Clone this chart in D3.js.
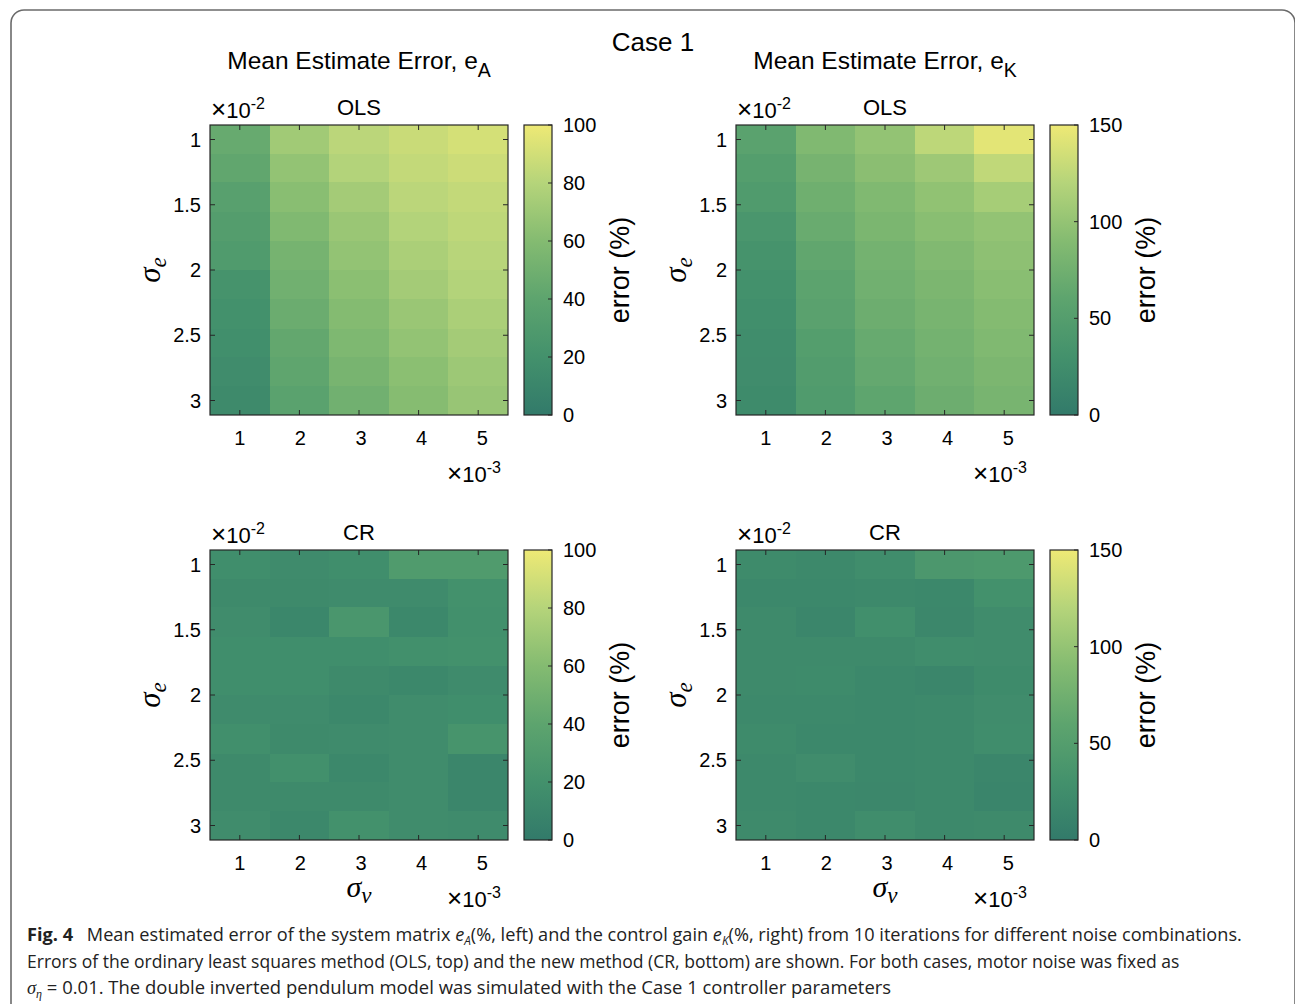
<!DOCTYPE html>
<html>
<head>
<meta charset="utf-8">
<script src="https://cdn.jsdelivr.net/npm/d3@7"></script>
<style>
  body { margin: 0; background: #fff; }
  svg { display: block; }
  text { font-family: "Liberation Sans", Arial, sans-serif; fill: #000; }
</style>
</head>
<body>
<div id="chart"></div>
<script>
// sigma_v (x, x1e-3) and sigma_e (y, x1e-2)
var sigmaV = [1, 2, 3, 4, 5];
var sigmaE = [1, 1.22, 1.44, 1.67, 1.89, 2.11, 2.33, 2.56, 2.78, 3];
var yTicks = [1, 1.5, 2, 2.5, 3];

// rows = sigma_e (top to bottom), cols = sigma_v
var olsA = [
    [45, 72, 82, 87, 91],
    [42, 66, 79, 85, 88],
    [36, 62, 73, 82, 85],
    [33, 58, 69, 79, 83],
    [30, 53, 66, 76, 81],
    [22, 50, 63, 73, 79],
    [20, 47, 60, 69, 76],
    [18, 43, 57, 66, 73],
    [16, 41, 54, 63, 70],
    [14, 38, 50, 61, 68]
];
var olsK = [
    [57, 87, 99, 124, 144],
    [50, 80, 94, 106, 126],
    [45, 74, 87, 98, 111],
    [38, 69, 83, 93, 99],
    [33, 63, 78, 88, 96],
    [30, 59, 75, 84, 93],
    [27, 56, 72, 81, 90],
    [25, 50, 68, 78, 87],
    [24, 47, 65, 75, 84],
    [22, 45, 61, 72, 81]
];
var crA = [
    [17, 15, 17, 30, 30],
    [14, 14, 15, 15, 20],
    [16, 11, 25, 12, 19],
    [17, 17, 17, 19, 20],
    [17, 17, 14, 12, 15],
    [15, 15, 12, 16, 17],
    [18, 14, 15, 16, 23],
    [14, 19, 12, 16, 10],
    [14, 14, 14, 16, 10],
    [16, 12, 20, 16, 15]
];
var crK = [
    [22, 20, 25, 40, 42],
    [18, 18, 20, 18, 30],
    [21, 15, 27, 17, 24],
    [21, 21, 21, 25, 24],
    [21, 22, 18, 15, 22],
    [20, 20, 18, 20, 24],
    [22, 18, 18, 20, 25],
    [20, 24, 18, 20, 15],
    [20, 18, 17, 20, 14],
    [21, 18, 25, 20, 21]
];
var ticksA = [0, 20, 40, 60, 80, 100];
var ticksK = [0, 50, 100, 150];

var cmapStops = ['#327a6a', '#43916c', '#5da46e', '#84bb71', '#b5d47a', '#eee975'];
var cmap = d3.piecewise(d3.interpolateRgb, cmapStops);

var W = 1295, H = 1004;
var svg = d3.select('#chart').append('svg').attr('width', W).attr('height', H);

// rounded frame
svg.append('rect')
    .attr('x', 11).attr('y', 10)
    .attr('width', 1284).attr('height', 1010)
    .attr('rx', 13)
    .attr('fill', 'none').attr('stroke', '#6b6b6b').attr('stroke-width', 1.6);

svg.append('text').attr('x', 653).attr('y', 51).attr('text-anchor', 'middle')
    .style('font-size', '26px').text('Case 1');

var pw = 298, ph = 290;

function panel(x0, y0, data, vmax, cticks, method, title, sub, bottom) {
    var g = svg.append('g');
    var x = d3.scaleBand().domain(sigmaV).range([x0, x0 + pw]);
    var rowH = ph / sigmaE.length;
    var y = d3.scaleLinear().domain([1, 3]).range([y0 + rowH / 2, y0 + ph - rowH / 2]);
    var col = d3.scaleSequential(cmap).domain([0, vmax]);

    var cells = [];
    data.forEach(function (row, i) {
        row.forEach(function (v, j) { cells.push({ r: sigmaE[i], c: sigmaV[j], v: v }); });
    });
    g.selectAll('rect.cell').data(cells).enter().append('rect')
        .attr('class', 'cell')
        .attr('shape-rendering', 'crispEdges')
        .attr('x', function (d) { return Math.round(x(d.c)); })
        .attr('y', function (d) { return Math.round(y(d.r) - rowH / 2); })
        .attr('width', function (d) { return Math.min(x0 + pw, Math.round(x(d.c) + x.bandwidth()) + 1) - Math.round(x(d.c)); })
        .attr('height', function (d) { return Math.min(y0 + ph, Math.round(y(d.r) + rowH / 2) + 1) - Math.round(y(d.r) - rowH / 2); })
        .attr('fill', function (d) { return col(d.v); });

    // inward ticks
    var tk = 5;
    var tg = g.append('g').attr('stroke', '#262626').attr('stroke-width', 1);
    sigmaV.forEach(function (v, i) {
        var cx = x(v) + x.bandwidth() / 2;
        tg.append('line').attr('x1', cx).attr('x2', cx).attr('y1', y0 + ph).attr('y2', y0 + ph - tk);
        tg.append('line').attr('x1', cx).attr('x2', cx).attr('y1', y0).attr('y2', y0 + tk);
        g.append('text').attr('x', cx + i).attr('y', y0 + ph + 30).attr('text-anchor', 'middle')
            .style('font-size', '20px').text(v);
    });
    yTicks.forEach(function (v) {
        tg.append('line').attr('x1', x0).attr('x2', x0 + tk).attr('y1', y(v)).attr('y2', y(v));
        tg.append('line').attr('x1', x0 + pw).attr('x2', x0 + pw - tk).attr('y1', y(v)).attr('y2', y(v));
        g.append('text').attr('x', x0 - 9).attr('y', y(v) + 7).attr('text-anchor', 'end')
            .style('font-size', '20px').text(v);
    });
    g.append('rect').attr('x', x0).attr('y', y0).attr('width', pw).attr('height', ph)
        .attr('fill', 'none').attr('stroke', '#262626').attr('stroke-width', 1.2);

    // exponent labels
    var ex = g.append('text').attr('x', x0 + 1).attr('y', y0 - 7).style('font-size', '22px');
    ex.append('tspan').style('font-size', '26px').style('font-weight', '300').text('\u00d7');
    ex.append('tspan').text('10');
    ex.append('tspan').attr('dy', -9).style('font-size', '16px').text('-2');
    var ex2 = g.append('text').attr('x', x0 + 237).attr('y', y0 + ph + 67).style('font-size', '22px');
    ex2.append('tspan').style('font-size', '26px').style('font-weight', '300').text('\u00d7');
    ex2.append('tspan').text('10');
    ex2.append('tspan').attr('dy', -9).style('font-size', '16px').text('-3');

    // method + title
    g.append('text').attr('x', x0 + pw / 2).attr('y', y0 - 10).attr('text-anchor', 'middle')
        .style('font-size', '22px').text(method);
    if (title) {
        var t = g.append('text').attr('x', x0 + pw / 2).attr('y', y0 - 56).attr('text-anchor', 'middle')
            .style('font-size', '24.5px');
        t.append('tspan').text('Mean Estimate Error, e');
        t.append('tspan').attr('dy', 8).style('font-size', '19.5px').text(sub);
    }

    // sigma labels
    var yl = g.append('text')
        .attr('transform', 'translate(' + (x0 - 50) + ',' + (y0 + ph / 2) + ') rotate(-90)')
        .attr('text-anchor', 'middle')
        .style('font-family', '"Liberation Serif", "DejaVu Serif", serif').style('font-style', 'italic')
        .style('font-size', '31px');
    yl.append('tspan').text('\u03c3');
    yl.append('tspan').attr('dy', 6).style('font-size', '23px').text('e');
    if (bottom) {
        var xl = g.append('text').attr('x', x0 + pw / 2).attr('y', y0 + ph + 57).attr('text-anchor', 'middle')
            .style('font-family', '"Liberation Serif", "DejaVu Serif", serif').style('font-style', 'italic')
            .style('font-size', '30px');
        xl.append('tspan').text('\u03c3');
        xl.append('tspan').attr('dy', 6).style('font-size', '23px').text('v');
    }

    // colorbar
    var cx0 = x0 + 314, cw = 28;
    var cy = d3.scaleLinear().domain([0, vmax]).range([y0 + ph, y0]);
    var gid = 'grad' + x0 + '_' + y0;
    var grad = svg.append('defs').append('linearGradient').attr('id', gid)
        .attr('x1', 0).attr('y1', 1).attr('x2', 0).attr('y2', 0);
    cmapStops.forEach(function (c, i) {
        grad.append('stop').attr('offset', i / (cmapStops.length - 1)).attr('stop-color', c);
    });
    g.append('rect').attr('x', cx0).attr('y', y0).attr('width', cw).attr('height', ph)
        .attr('fill', 'url(#' + gid + ')').attr('stroke', '#262626').attr('stroke-width', 1.2);
    cticks.forEach(function (v) {
        g.append('line').attr('x1', cx0 + cw).attr('x2', cx0 + cw - 4).attr('y1', cy(v)).attr('y2', cy(v))
            .attr('stroke', '#262626');
        g.append('text').attr('x', cx0 + cw + 11).attr('y', cy(v) + 7).style('font-size', '20px').text(v);
    });
    g.append('text')
        .attr('transform', 'translate(' + (cx0 + 105) + ',' + (y0 + ph / 2) + ') rotate(-90)')
        .attr('text-anchor', 'middle').style('font-size', '27px').text('error (%)');
}

panel(210, 125, olsA, 100, ticksA, 'OLS', true, 'A', false);
panel(736, 125, olsK, 150, ticksK, 'OLS', true, 'K', false);
panel(210, 550, crA, 100, ticksA, 'CR', false, '', true);
panel(736, 550, crK, 150, ticksK, 'CR', false, '', true);

// caption: each line is one text, squeezed horizontally to the reference width
var capFont = '"Liberation Sans Narrow", "Open Sans", sans-serif';
function capLine(yp, width) {
    var t = svg.append('text').attr('x', 0).attr('y', 0)
        .style('font-family', capFont).style('font-size', '18.5px').style('fill', '#222');
    t.fit = function () {
        var nat = t.node().getComputedTextLength();
        t.attr('transform', 'translate(27,' + yp + ') scale(' + (width / nat) + ',1)');
    };
    return t;
}
function sym(t, s, sub, serif) {
    var a = t.append('tspan').style('font-style', 'italic').text(s);
    var b = t.append('tspan').style('font-style', 'italic').style('font-size', '12px').attr('dy', 4).text(sub);
    if (serif) { a.style('font-family', '"Liberation Serif", serif'); b.style('font-family', '"Liberation Serif", serif'); }
}

var l1 = capLine(941, 1215);
l1.append('tspan').style('font-weight', 'bold').text('Fig. 4');
l1.append('tspan').text('\u2002 Mean estimated error of the system matrix ');
sym(l1, 'e', 'A');
l1.append('tspan').attr('dy', -4).text('(%, left) and the control gain ');
sym(l1, 'e', 'K');
l1.append('tspan').attr('dy', -4).text('(%, right) from 10 iterations for different noise combinations.');
l1.fit();

var l2 = capLine(968, 1153);
l2.text('Errors of the ordinary least squares method (OLS, top) and the new method (CR, bottom) are shown. For both cases, motor noise was fixed as');
l2.fit();

var l3 = capLine(994, 865);
sym(l3, '\u03c3', '\u03b7', true);
l3.append('tspan').attr('dy', -4).text(' = 0.01. The double inverted pendulum model was simulated with the Case 1 controller parameters');
l3.fit();
</script>
</body>
</html>
